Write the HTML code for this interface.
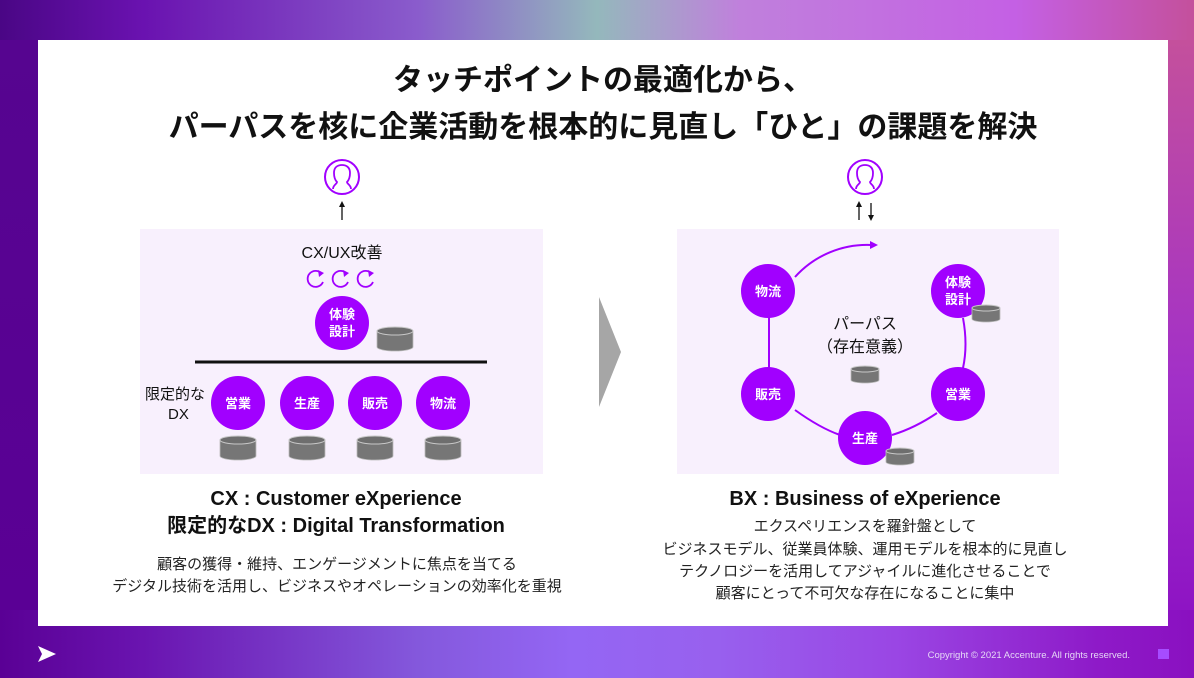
<!DOCTYPE html>
<html><head><meta charset="utf-8"><style>
html,body{margin:0;padding:0}
body{width:1194px;height:678px;overflow:hidden;position:relative;font-family:"Liberation Sans","Noto Sans CJK JP",sans-serif;
background:linear-gradient(90deg,#4a0685 0%,#6a12b0 12%,#8a5ccc 35%,#94b8bc 50%,#c080dc 62%,#c460e4 85%,#c4509c 100%);}
.bot{position:absolute;left:0;top:600px;width:1194px;height:78px;background:linear-gradient(90deg,#5a0095 0%,#6a14b0 12%,#8458dc 35%,#9466f4 48%,#9860ee 60%,#9a46e4 75%,#8e1ac8 92%,#8a10c0 100%)}
.side{position:absolute;left:0;top:40px;width:38px;height:570px;background:linear-gradient(180deg,#560590,#5a0095)}
.sider{position:absolute;right:0;top:40px;width:26px;height:570px;background:linear-gradient(180deg,#c4509c,#a230c8 60%,#8e14c4)}
.panel{position:absolute;left:38px;top:40px;width:1130px;height:586px;background:#fff}
svg{position:absolute;left:0;top:0}
</style></head><body>
<div class="bot"></div><div class="side"></div><div class="sider"></div>
<div class="panel"></div>
<svg width="1194" height="678" viewBox="0 0 1194 678" font-family="Liberation Sans, Noto Sans CJK JP, sans-serif">
<defs>
<g id="cyl">
<path d="M-18,-7 L-18,9 A18,4 0 0 0 18,9 L18,-7 Z" fill="#767676" stroke="#bbb" stroke-width="0.8"/>
<ellipse cx="0" cy="-7" rx="18" ry="4" fill="#6e6e6e" stroke="#c8c8c8" stroke-width="1"/>
</g>
<g id="cyls">
<path d="M-14,-5 L-14,6 A14,3 0 0 0 14,6 L14,-5 Z" fill="#767676" stroke="#bbb" stroke-width="0.8"/>
<ellipse cx="0" cy="-5" rx="14" ry="3" fill="#6e6e6e" stroke="#c8c8c8" stroke-width="1"/>
</g>
<g id="person">
<circle cx="0" cy="0" r="17" fill="#fff" stroke="#a100ff" stroke-width="2"/>
<path d="M-9,12 C-9,8 -5,7 -5,5 C-8,2 -8,-2 -8,-4 C-8,-10 -4,-12 0,-12 C4,-12 8,-10 8,-4 C8,-2 8,2 5,5 C5,7 9,8 9,12" fill="none" stroke="#a100ff" stroke-width="1.8"/>
</g>
<g id="ref">
<path d="M6,-5 A8,8 0 1 0 7,3" fill="none" stroke="#a100ff" stroke-width="1.8"/>
<path d="M2,-9 L8,-6 L3,-2 Z" fill="#a100ff"/>
</g>
</defs>
<text x="603" y="90" text-anchor="middle" font-size="30" font-weight="bold" fill="#111">タッチポイントの最適化から、</text>
<text x="603" y="137" text-anchor="middle" font-size="30" font-weight="bold" fill="#111">パーパスを核に企業活動を根本的に見直し「ひと」の課題を解決</text>

<!-- left -->
<rect x="140" y="229" width="403" height="245" fill="#f8f0fd"/>
<use href="#person" x="342" y="177"/>
<line x1="342" y1="220" x2="342" y2="206" stroke="#111" stroke-width="1.3"/>
<path d="M339,207 L342,201 L345,207 Z" fill="#111"/>
<text x="342" y="258" text-anchor="middle" font-size="16" fill="#111">CX/UX改善</text>
<use href="#ref" x="316" y="279"/><use href="#ref" x="341" y="279"/><use href="#ref" x="366" y="279"/>
<circle cx="342" cy="323" r="27" fill="#a100ff"/>
<text x="342" y="319" text-anchor="middle" font-size="13" font-weight="bold" fill="#fff">体験</text>
<text x="342" y="336" text-anchor="middle" font-size="13" font-weight="bold" fill="#fff">設計</text>
<use href="#cyl" x="395" y="338"/>
<line x1="195" y1="362" x2="487" y2="362" stroke="#111" stroke-width="3"/>
<text x="145" y="399" font-size="15" fill="#111">限定的な</text>
<text x="168" y="419" font-size="15" fill="#111">DX</text>
<g font-size="13" font-weight="bold" fill="#fff" text-anchor="middle">
<circle cx="238" cy="403" r="27" fill="#a100ff"/><text x="238" y="408">営業</text>
<circle cx="307" cy="403" r="27" fill="#a100ff"/><text x="307" y="408">生産</text>
<circle cx="375" cy="403" r="27" fill="#a100ff"/><text x="375" y="408">販売</text>
<circle cx="443" cy="403" r="27" fill="#a100ff"/><text x="443" y="408">物流</text>
</g>
<use href="#cyl" x="238" y="447"/><use href="#cyl" x="307" y="447"/><use href="#cyl" x="375" y="447"/><use href="#cyl" x="443" y="447"/>

<!-- chevron -->
<path d="M599,297 L621,352 L599,407 Z" fill="#a6a6a6"/>

<!-- right -->
<rect x="677" y="229" width="382" height="245" fill="#f8f0fd"/>
<use href="#person" x="865" y="177"/>
<line x1="859" y1="220" x2="859" y2="206" stroke="#111" stroke-width="1.3"/>
<path d="M856,207 L859,201 L862,207 Z" fill="#111"/>
<line x1="871" y1="203" x2="871" y2="216" stroke="#111" stroke-width="1.3"/>
<path d="M868,215 L871,221 L874,215 Z" fill="#111"/>
<path d="M795,277 A97,97 0 0 1 872,245" fill="none" stroke="#a100ff" stroke-width="2"/>
<path d="M870,241 L878,245 L870,249 Z" fill="#a100ff"/>
<path d="M769,315 L769,370" fill="none" stroke="#a100ff" stroke-width="2"/>
<path d="M795,410 Q820,428 840,435" fill="none" stroke="#a100ff" stroke-width="2"/>
<path d="M892,435 Q915,428 937,413" fill="none" stroke="#a100ff" stroke-width="2"/>
<path d="M963,318 Q968,345 963,368" fill="none" stroke="#a100ff" stroke-width="2"/>
<text x="865" y="329" text-anchor="middle" font-size="16" fill="#111">パーパス</text>
<text x="865" y="352" text-anchor="middle" font-size="16" fill="#111">（存在意義）</text>
<use href="#cyls" x="865" y="374"/>
<g font-size="13" font-weight="bold" fill="#fff" text-anchor="middle">
<circle cx="768" cy="291" r="27" fill="#a100ff"/><text x="768" y="296">物流</text>
<circle cx="958" cy="291" r="27" fill="#a100ff"/><text x="958" y="287">体験</text><text x="958" y="304">設計</text>
<circle cx="768" cy="394" r="27" fill="#a100ff"/><text x="768" y="399">販売</text>
<circle cx="958" cy="394" r="27" fill="#a100ff"/><text x="958" y="399">営業</text>
<circle cx="865" cy="438" r="27" fill="#a100ff"/><text x="865" y="443">生産</text>
</g>
<use href="#cyls" x="986" y="313"/>
<use href="#cyls" x="900" y="456"/>

<!-- captions -->
<g font-weight="bold" font-size="20" fill="#111" text-anchor="middle">
<text x="336" y="505">CX : Customer eXperience</text>
<text x="336" y="532">限定的なDX : Digital Transformation</text>
<text x="865" y="505">BX : Business of eXperience</text>
</g>
<g font-size="15" fill="#222" text-anchor="middle">
<text x="337" y="569">顧客の獲得・維持、エンゲージメントに焦点を当てる</text>
<text x="337" y="591">デジタル技術を活用し、ビジネスやオペレーションの効率化を重視</text>
<text x="865" y="531">エクスペリエンスを羅針盤として</text>
<text x="865" y="554">ビジネスモデル、従業員体験、運用モデルを根本的に見直し</text>
<text x="865" y="576">テクノロジーを活用してアジャイルに進化させることで</text>
<text x="865" y="598">顧客にとって不可欠な存在になることに集中</text>
</g>
<!-- footer -->
<path d="M38,646 L56,654 L38,662 L42,654 Z" fill="#fff"/>
<text x="1130" y="658" text-anchor="end" font-size="9.5" fill="#e6d8f6">Copyright © 2021 Accenture. All rights reserved.</text>
<rect x="1158" y="649" width="11" height="10" fill="#a64cff"/>
</svg>
</body></html>
